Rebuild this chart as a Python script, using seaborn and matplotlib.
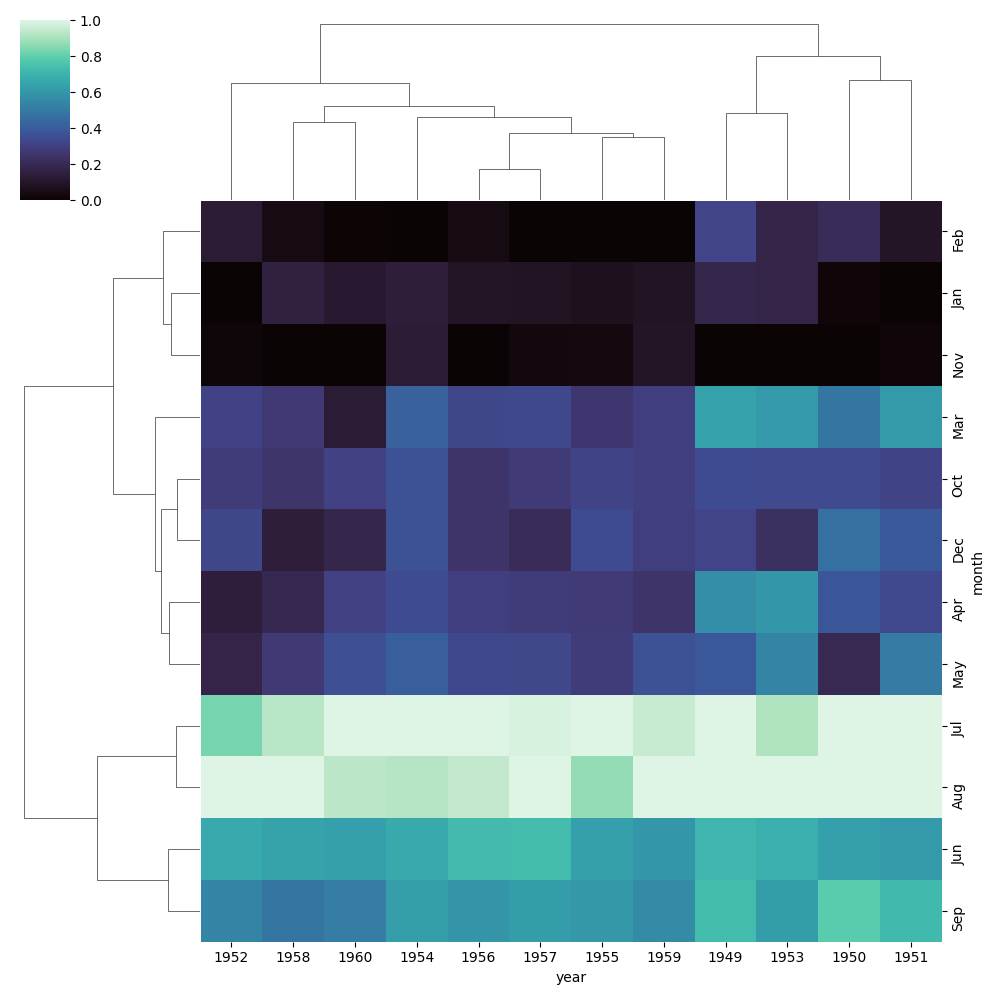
import pandas as pd
import seaborn as sns
import matplotlib.pyplot as plt

months = ['Jan', 'Feb', 'Mar', 'Apr', 'May', 'Jun', 'Jul', 'Aug', 'Sep', 'Oct', 'Nov', 'Dec']
years = list(range(1949, 1961))

passengers = {
    1949: [112, 118, 132, 129, 121, 135, 148, 148, 136, 119, 104, 118],
    1950: [115, 126, 141, 135, 125, 149, 170, 170, 158, 133, 114, 140],
    1951: [145, 150, 178, 163, 172, 178, 199, 199, 184, 162, 146, 166],
    1952: [171, 180, 193, 181, 183, 218, 230, 242, 209, 191, 172, 194],
    1953: [196, 196, 236, 235, 229, 243, 264, 272, 237, 211, 180, 201],
    1954: [204, 188, 235, 227, 234, 264, 302, 293, 259, 229, 203, 229],
    1955: [242, 233, 267, 269, 270, 315, 364, 347, 312, 274, 237, 278],
    1956: [284, 277, 317, 313, 318, 374, 413, 405, 355, 306, 271, 306],
    1957: [315, 301, 356, 348, 355, 422, 465, 467, 404, 347, 305, 336],
    1958: [340, 318, 362, 348, 363, 435, 491, 505, 404, 359, 310, 337],
    1959: [360, 342, 406, 396, 420, 472, 548, 559, 463, 407, 362, 405],
    1960: [417, 391, 419, 461, 472, 535, 622, 606, 508, 461, 390, 432],
}

df = pd.DataFrame(passengers, index=months)
df.index.name = 'month'
df.columns.name = 'year'

g = sns.clustermap(df, cmap='mako', standard_scale=1, figsize=(10, 10))
g.fig.savefig('out.png', dpi=100)
